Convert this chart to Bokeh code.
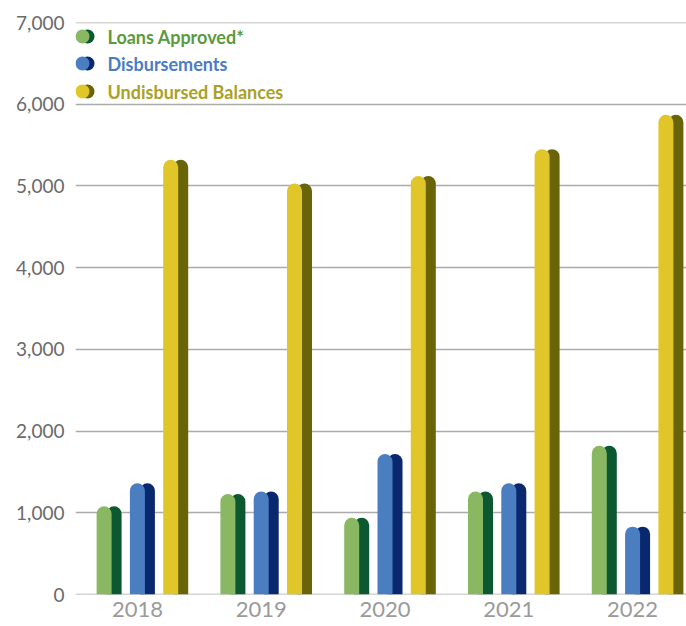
from bokeh.plotting import figure
from bokeh.models import Range1d, FixedTicker, NumeralTickFormatter, ColumnDataSource, Label, Span
from bokeh.embed import file_html
from bokeh.resources import INLINE

# ---- data ----
years = ["2018", "2019", "2020", "2021", "2022"]
loans_approved = [1080, 1230, 940, 1260, 1820]
disbursements = [1360, 1260, 1720, 1360, 830]
undisbursed_balances = [5320, 5030, 5120, 5450, 5870]
series_names = ["Loans Approved*", "Disbursements", "Undisbursed Balances"]
y_ticks = [0, 1000, 2000, 3000, 4000, 5000, 6000, 7000]

# ---- styles ----
front_colors = ["#8ab862", "#4a7ec1", "#e0c628"]
shadow_colors = ["#0c5830", "#0a286e", "#6a6408"]
text_colors = ["#5c9a3c", "#4a7cc4", "#a9a127"]
FONT = "Lato"
GRID_COLOR = "#ababab"

W, H = 686, 626
BORDER_L, BORDER_T, BORDER_B = 75, 22, 32
frame_w = W - BORDER_L
frame_h = H - BORDER_T - BORDER_B
cat_px = 123.8
x_end = frame_w / cat_px
y_max = 7000

def dx(px):
    return px / cat_px

def fx(px):  # page px -> data x
    return (px - BORDER_L) / cat_px

def fy(py):  # page px -> data y
    return (BORDER_T + frame_h - py) / frame_h * y_max

p = figure(width=W, height=H, x_range=Range1d(0, x_end), y_range=Range1d(0, y_max),
           output_backend="svg", toolbar_location=None,
           min_border_left=BORDER_L, min_border_right=0,
           min_border_top=BORDER_T, min_border_bottom=BORDER_B)
p.outline_line_color = None
p.background_fill_color = "white"
p.border_fill_color = "white"

# grid (edge lines drawn as spans so they are not skipped)
p.xgrid.visible = False
p.ygrid.ticker = FixedTicker(ticks=y_ticks[1:-1])
p.ygrid.grid_line_color = GRID_COLOR
p.ygrid.grid_line_width = 1.5
for yv in (y_ticks[0], y_ticks[-1]):
    p.add_layout(Span(location=yv, dimension="width", line_color=GRID_COLOR,
                      line_width=1.5, level="underlay"))

# y axis
p.yaxis.ticker = FixedTicker(ticks=y_ticks)
p.yaxis.formatter = NumeralTickFormatter(format="0,0")
p.yaxis.axis_line_color = None
p.yaxis.major_tick_line_color = None
p.yaxis.minor_tick_line_color = None
p.yaxis.major_tick_out = 0
p.yaxis.major_tick_in = 0
p.yaxis.major_label_standoff = 11
p.yaxis.major_label_text_font = FONT
p.yaxis.major_label_text_font_size = "19px"
p.yaxis.major_label_text_color = "#6a6a6a"

# x axis with year labels at category centres
x_centres = [i + 0.5 for i in range(len(years))]
p.xaxis.ticker = FixedTicker(ticks=x_centres)
p.xaxis.major_label_overrides = {c: yr for c, yr in zip(x_centres, years)}
p.xaxis.axis_line_color = None
p.xaxis.major_tick_line_color = None
p.xaxis.minor_tick_line_color = None
p.xaxis.major_tick_out = 0
p.xaxis.major_tick_in = 0
p.xaxis.major_label_standoff = 7
p.xaxis.major_label_text_font = FONT
p.xaxis.major_label_text_font_size = "22px"
p.xaxis.major_label_text_color = "#9a9a9a"

# bars
offsets = [-33.3, 0.0, 33.3]
bar_w = dx(15)
shadow_shift = dx(10)
all_values = [loans_approved, disbursements, undisbursed_balances]
for k, vals in enumerate(all_values):
    xs = [c + dx(offsets[k]) for c in x_centres]
    src = ColumnDataSource(dict(x=xs, xs=[x + shadow_shift for x in xs], top=vals))
    p.vbar(x="xs", top="top", bottom=0, width=bar_w, source=src,
           fill_color=shadow_colors[k], line_color=None,
           border_radius=(8, 8, 0, 0))
    p.vbar(x="x", top="top", bottom=0, width=bar_w, source=src,
           fill_color=front_colors[k], line_color=None,
           border_radius=(8, 8, 0, 0))

# legend
leg_py = [36, 63, 91]
for k, name in enumerate(series_names):
    p.scatter(x=[fx(87)], y=[fy(leg_py[k])], size=14, marker="circle",
              fill_color=shadow_colors[k], line_color=None)
    p.scatter(x=[fx(82)], y=[fy(leg_py[k])], size=14, marker="circle",
              fill_color=front_colors[k], line_color=None)
    p.add_layout(Label(x=fx(107), y=fy(leg_py[k]), text=name,
                       text_align="left", text_baseline="middle",
                       text_font=FONT, text_font_size="18px",
                       text_font_style="bold", text_color=text_colors[k]))

open("out.html", "w").write(file_html(p, INLINE))
